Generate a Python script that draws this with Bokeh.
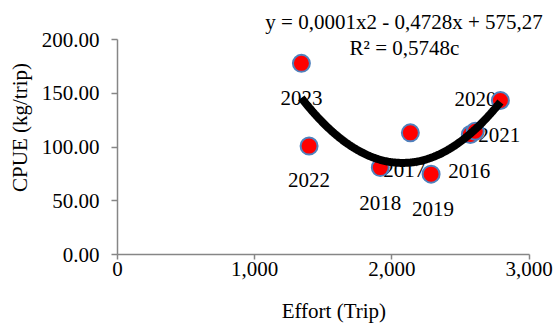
import numpy as np
from bokeh.plotting import figure
from bokeh.models import Range1d, FixedTicker, NumeralTickFormatter, Label, ColumnDataSource
from bokeh.core.properties import value
from bokeh.embed import file_html
from bokeh.resources import INLINE

# ---- data ----
years = ["2016", "2017", "2018", "2019", "2020", "2021", "2022", "2023"]
effort = [2571, 2134, 1915, 2285, 2790, 2607, 1396, 1340]
cpue = [111.7, 113.2, 80.9, 74.8, 143.3, 114.7, 100.9, 177.9]
x_ticks = [0, 1000, 2000, 3000]
y_ticks = [0, 50, 100, 150, 200]
equation_text = "y = 0,0001x2 - 0,4728x + 575,27"
r2_text = "R\u00b2 = 0,5748c"

# ---- layout / style (label offsets in pixels) ----
label_dx = [-1, -6, 0, 2, -25, 24, 0, 0]
label_dy = [37, 37, 35, 35, -2, 4, 34, 35]

FONT = "Liberation Serif"

p = figure(width=555, height=325, output_backend="svg", toolbar_location=None,
           x_range=Range1d(0, 3191.6), y_range=Range1d(0, 236.4),
           min_border_left=117, min_border_right=0, min_border_top=0, min_border_bottom=70)
p.outline_line_color = None
p.xgrid.visible = False
p.ygrid.visible = False
p.background_fill_color = "white"

for ax in (p.xaxis, p.yaxis):
    ax.axis_line_color = "#868686"
    ax.axis_line_width = 1.5
    ax.major_tick_line_color = "#868686"
    ax.major_tick_line_width = 1.5
    ax.minor_tick_line_color = None
    ax.minor_tick_out = 0
    ax.major_tick_in = 0
    ax.major_label_text_font = FONT
    ax.major_label_text_font_size = "21px"
    ax.major_label_text_color = "black"
    ax.axis_label_text_font = FONT
    ax.axis_label_text_font_style = "normal"
    ax.axis_label_text_color = "black"

p.xaxis.bounds = (0, 3000)
p.yaxis.bounds = (0, 200)
p.xaxis.ticker = FixedTicker(ticks=x_ticks)
p.yaxis.ticker = FixedTicker(ticks=y_ticks)
p.xaxis.formatter = NumeralTickFormatter(format="0,0")
p.yaxis.formatter = NumeralTickFormatter(format="0.00")
p.xaxis.major_tick_out = 5
p.yaxis.major_tick_out = 6
p.xaxis.major_label_standoff = 2
p.yaxis.major_label_standoff = 12
p.xaxis.axis_label = "Effort  (Trip)"
p.yaxis.axis_label = "CPUE (kg/trip)"
p.xaxis.axis_label_text_font_size = "21px"
p.yaxis.axis_label_text_font_size = "21px"
p.xaxis.axis_label_standoff = 20
p.yaxis.axis_label_standoff = 7

src = ColumnDataSource(dict(x=effort, y=cpue, year=years, dx=label_dx, dy=label_dy))

# data labels (under markers)
p.text(x="x", y="y", text="year", source=src, x_offset="dx", y_offset="dy",
       text_font=value(FONT), text_font_size="21px", text_color="black",
       text_align="center", text_baseline="middle")

# markers
p.scatter(x="x", y="y", source=src, size=17, fill_color="#FF0000",
          line_color="#4F81BD", line_width=2)

# polynomial (order 2) trend line fitted to the data
coef = np.polyfit(effort, cpue, 2)
tx = np.linspace(min(effort), max(effort), 200)
ty = np.polyval(coef, tx)
p.line(tx, ty, line_color="black", line_width=8)

# trend equation
p.add_layout(Label(x=2088, y=216.2, text=equation_text, text_font=FONT,
                   text_font_size="21px", text_color="black",
                   text_align="center", text_baseline="middle"))
p.add_layout(Label(x=2091, y=192.6, text=r2_text, text_font=FONT,
                   text_font_size="21px", text_color="black",
                   text_align="center", text_baseline="middle"))

open("out.html", "w").write(file_html(p, INLINE))
